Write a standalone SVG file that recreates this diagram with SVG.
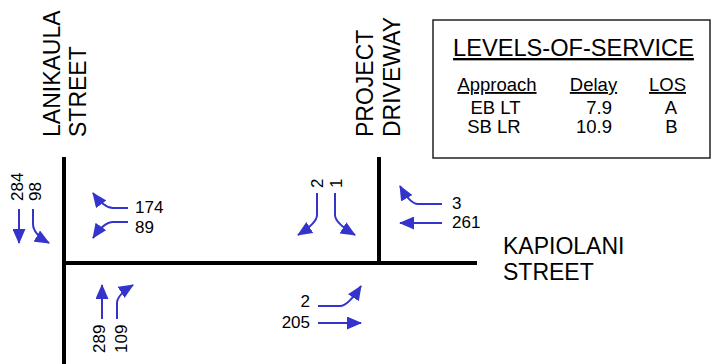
<svg xmlns="http://www.w3.org/2000/svg" width="712" height="364" viewBox="0 0 712 364">
<style>
.lbl{font-family:"Liberation Sans",Arial,sans-serif;font-size:23px;fill:#000}
.ttl{font-family:"Liberation Sans",Arial,sans-serif;font-size:23.6px;fill:#000;text-anchor:middle;text-decoration:underline}
.num{font-family:"Liberation Sans",Arial,sans-serif;font-size:17px;fill:#000}
.tb{font-family:"Liberation Sans",Arial,sans-serif;font-size:18.5px;fill:#000;text-anchor:middle}
.u{text-decoration:underline}
.road{stroke:#000;stroke-width:4;fill:none}
.mv{stroke:#3434cc;stroke-width:2;fill:none;marker-end:url(#ah)}
</style>
<defs>
<marker id="ah" viewBox="0 0 15 13" refX="14" refY="6.5" markerWidth="15" markerHeight="13" markerUnits="userSpaceOnUse" orient="auto">
<path d="M0,0 L15,6.5 L0,13 z" fill="#3434cc"/>
</marker>
</defs>
<rect width="712" height="364" fill="#fff"/>
<g id="roads">
<line class="road" x1="64" y1="157" x2="64" y2="364"/>
<line class="road" x1="62" y1="263" x2="477" y2="263"/>
<line class="road" x1="379" y1="157" x2="379" y2="265"/>
</g>
<g id="street-labels">
<text class="lbl" transform="translate(60,137) rotate(-90)">LANIKAULA</text>
<text class="lbl" transform="translate(86,137) rotate(-90)">STREET</text>
<text class="lbl" transform="translate(373,137) rotate(-90)">PROJECT</text>
<text class="lbl" transform="translate(400,137) rotate(-90)">DRIVEWAY</text>
<text class="lbl" x="503" y="254">KAPIOLANI</text>
<text class="lbl" x="503" y="280">STREET</text>
</g>
<g id="los-table">
<rect x="433" y="20" width="277" height="138" fill="#fff" stroke="#222" stroke-width="1.5"/>
<text class="ttl" x="573.5" y="56">LEVELS-OF-SERVICE</text>
<text class="tb u" x="497" y="91">Approach</text>
<text class="tb u" x="593.5" y="91">Delay</text>
<text class="tb u" x="667.5" y="91">LOS</text>
<text class="tb" x="495.5" y="114">EB LT</text>
<text class="tb" x="612" y="114" style="text-anchor:end">7.9</text>
<text class="tb" x="671" y="114">A</text>
<text class="tb" x="494" y="133">SB LR</text>
<text class="tb" x="612" y="133" style="text-anchor:end">10.9</text>
<text class="tb" x="671.5" y="133">B</text>
</g>
<g id="volumes">
<text class="num" transform="translate(23,201) rotate(-90)">284</text>
<text class="num" transform="translate(41,201) rotate(-90)">98</text>
<text class="num" x="135" y="213">174</text>
<text class="num" x="135" y="233">89</text>
<text class="num" transform="translate(105,353) rotate(-90)">289</text>
<text class="num" transform="translate(127,353) rotate(-90)">109</text>
<text class="num" transform="translate(323,188) rotate(-90)">2</text>
<text class="num" transform="translate(342,188) rotate(-90)">1</text>
<text class="num" x="310" y="307" text-anchor="end">2</text>
<text class="num" x="310" y="328" text-anchor="end">205</text>
<text class="num" x="452" y="209">3</text>
<text class="num" x="452" y="228">261</text>
</g>
<g id="connectors">
<path class="mv" d="M19,209 V243"/>
<path class="mv" d="M33,209 V224 Q33,234 49,243"/>
<path class="mv" d="M128,208 H113 Q104,208 93,193"/>
<path class="mv" d="M128,222 H113 Q104,222 93,238"/>
<path class="mv" d="M102,319 V285"/>
<path class="mv" d="M117,319 V303 Q117,295 133,285"/>
<path class="mv" d="M317,193 V215 Q317,223 298,235"/>
<path class="mv" d="M335,193 V215 Q335,223 355,235"/>
<path class="mv" d="M318,306 H340 Q348,306 361,286"/>
<path class="mv" d="M318,323 H361"/>
<path class="mv" d="M442,204 H418 Q410,204 400,186"/>
<path class="mv" d="M442,223 H400"/>
</g>
</svg>
